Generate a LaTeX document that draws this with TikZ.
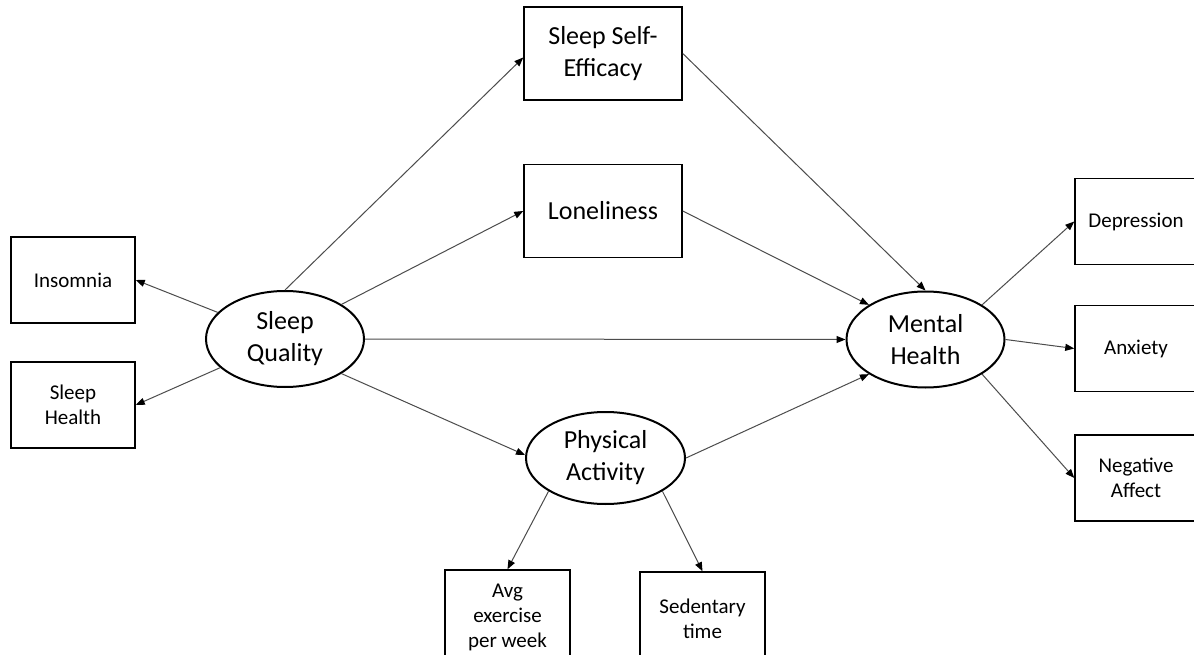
\documentclass[tikz,border=0pt]{standalone}
\usepackage{fontspec}
\setmainfont{Carlito}
\usetikzlibrary{shapes.geometric,arrows.meta}
\begin{document}
\begin{tikzpicture}[x=1pt,y=-1pt,
 box/.style={draw=black,line width=1.5pt,rectangle,inner sep=0pt,align=center},
 bigbox/.style={box,minimum width=158pt,minimum height=93pt,font=\fontsize{26}{32}\selectfont},
 smallbox/.style={box,minimum width=124pt,minimum height=86pt,font=\fontsize{21}{25}\selectfont},
 latent/.style={draw=black,line width=2pt,ellipse,minimum width=158pt,minimum height=96pt,inner sep=0pt,align=center,font=\fontsize{26}{32}\selectfont},
 arr/.style={draw=black!70,line width=1pt,-{Triangle[length=9pt,width=7pt,color=black]}}
]
\clip (0,0) rectangle (1194,655);
\fill[white] (0,0) rectangle (1194,655);

\node[bigbox] (sse) at (603,53.5) {Sleep Self-\\Efficacy};
\node[bigbox] (lon) at (603,211) {Loneliness};
\node[smallbox] (ins) at (73,280) {Insomnia};
\node[smallbox] (sh) at (73,405) {Sleep\\Health};
\node[latent] (sq) at (285,339) {Sleep\\Quality};
\node[latent,minimum width=159pt,minimum height=92pt] (pa) at (605.5,458) {Physical\\Activity};
\node[latent] (mh) at (925.5,339.5) {Mental\\Health};
\node[smallbox,minimum width=122pt] (dep) at (1136,221.5) {Depression};
\node[smallbox,minimum width=122pt] (anx) at (1136,348.5) {Anxiety};
\node[smallbox,minimum width=122pt] (na) at (1136,478) {Negative\\Affect};
\node[smallbox,minimum width=125pt,minimum height=95pt] (avg) at (507.5,617.5) {Avg\\exercise\\per week};
\node[smallbox,minimum width=125pt,minimum height=93pt] (sed) at (702.5,618.5) {Sedentary\\time};

\draw[arr] (sq) -- (ins.east);
\draw[arr] (sq) -- (sh.east);
\draw[arr] (sq.north) -- ([yshift=-4pt]sse.west);
\draw[arr] (sq.north east) -- (lon.west);
\draw[arr] (sq.east) -- (mh.west);
\draw[arr] (sq.south east) -- ([yshift=3pt]pa.west);
\draw[arr] (sse.east) -- (mh.north);
\draw[arr] (lon.east) -- (mh.north west);
\draw[arr] (pa.east) -- (mh.south west);
\draw[arr] (mh.north east) -- (dep.west);
\draw[arr] (mh.east) -- (anx.west);
\draw[arr] (mh.south east) -- (na.west);
\draw[arr] (pa.south west) -- (avg.north);
\draw[arr] (pa.south east) -- (sed.north);
\end{tikzpicture}
\end{document}
